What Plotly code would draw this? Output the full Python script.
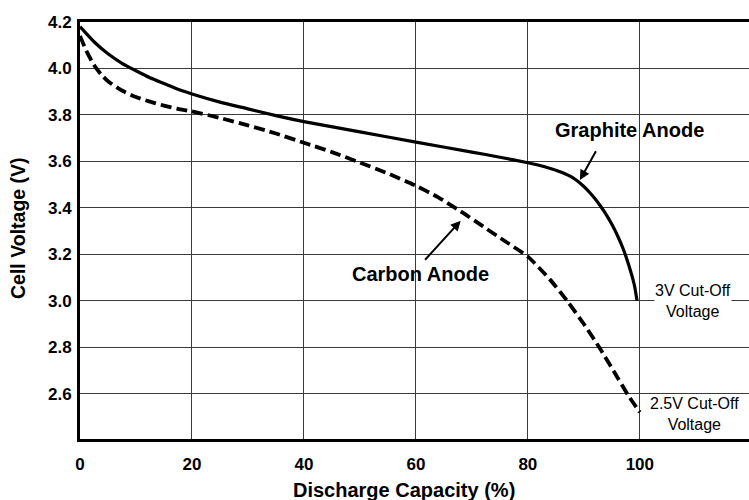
import plotly.graph_objects as go

# ---- data ----
graphite_x = [0, 2.5, 5, 7.5, 10, 12.5, 15, 17.5, 20, 25, 30, 35, 40, 50, 60, 70, 75, 80, 83, 86, 88, 90, 91, 92, 93, 94, 95, 96, 97, 98, 99, 99.5]
graphite_y = [4.18, 4.115, 4.063, 4.022, 3.99, 3.96, 3.935, 3.91, 3.89, 3.855, 3.826, 3.797, 3.771, 3.727, 3.683, 3.64, 3.618, 3.594, 3.577, 3.553, 3.53, 3.492, 3.467, 3.439, 3.407, 3.371, 3.329, 3.281, 3.225, 3.155, 3.07, 3.0]

carbon_x = [0, 1.25, 2.5, 3.75, 5, 7.5, 10, 12.5, 15, 17.5, 20, 25, 30, 35, 40, 45, 50, 55, 60, 64, 68, 72, 76, 80, 84, 87, 90, 93, 96, 98, 100]
carbon_y = [4.14, 4.07, 4.015, 3.975, 3.945, 3.905, 3.877, 3.857, 3.84, 3.826, 3.815, 3.787, 3.755, 3.72, 3.68, 3.64, 3.595, 3.548, 3.495, 3.445, 3.385, 3.32, 3.255, 3.19, 3.09, 3.0, 2.9, 2.79, 2.67, 2.59, 2.52]

x_ticks = [0, 20, 40, 60, 80, 100]
y_ticks = [2.6, 2.8, 3.0, 3.2, 3.4, 3.6, 3.8, 4.0, 4.2]
y_tick_text = ["2.6", "2.8", "3.0", "3.2", "3.4", "3.6", "3.8", "4.0", "4.2"]

FONT = "Liberation Sans, Arial, sans-serif"

fig = go.Figure()
fig.add_trace(go.Scatter(x=graphite_x, y=graphite_y, mode="lines",
                         line=dict(color="black", width=3.2, shape="spline", smoothing=0.6),
                         name="Graphite Anode", showlegend=False))
fig.add_trace(go.Scatter(x=carbon_x, y=carbon_y, mode="lines",
                         line=dict(color="black", width=3.8, dash="11px,5px", shape="spline", smoothing=0.6),
                         name="Carbon Anode", showlegend=False))

grid_col = "#3a3a3a"
fig.update_xaxes(range=[0, 119.5], tickvals=x_ticks, ticktext=[str(v) for v in x_ticks],
                 showgrid=True, gridcolor=grid_col, gridwidth=1, zeroline=False,
                 showline=True, linecolor="black", linewidth=3, mirror=True,
                 ticks="", ticklabelstandoff=8,
                 tickfont=dict(family=FONT, size=17, color="black", weight="bold"))
fig.update_yaxes(range=[2.405, 4.2], tickvals=y_ticks, ticktext=y_tick_text,
                 showgrid=True, gridcolor=grid_col, gridwidth=1, zeroline=False,
                 showline=True, linecolor="black", linewidth=3, mirror=False,
                 ticks="", ticklabelstandoff=2,
                 tickfont=dict(family=FONT, size=17, color="black", weight="bold"))

anns = []
# axis titles
anns.append(dict(text="Discharge Capacity (%)", xref="paper", yref="paper", x=(404 - 80) / 669, y=-(490 - 439) / 417,
                 showarrow=False, xanchor="center", yanchor="middle",
                 font=dict(family=FONT, size=20, color="black", weight="bold")))
anns.append(dict(text="Cell Voltage (V)", xref="paper", yref="paper", x=-(80 - 18) / 669, y=(439 - 228) / 417,
                 showarrow=False, xanchor="center", yanchor="middle", textangle=-90,
                 font=dict(family=FONT, size=19.5, color="black", weight="bold")))
# curve labels
anns.append(dict(text="Graphite Anode", x=98.2, y=3.735, xref="x", yref="y", showarrow=False,
                 font=dict(family=FONT, size=20, color="black", weight="bold")))
anns.append(dict(text="Carbon Anode", x=60.9, y=3.114, xref="x", yref="y", showarrow=False,
                 font=dict(family=FONT, size=20, color="black", weight="bold")))
# arrows
anns.append(dict(text="", x=89.3, y=3.52, ax=92.3, ay=3.65, xref="x", yref="y", axref="x", ayref="y",
                 showarrow=True, arrowhead=2, arrowsize=1, arrowwidth=2, arrowcolor="black"))
anns.append(dict(text="", x=68.0, y=3.345, ax=61.4, ay=3.17, xref="x", yref="y", axref="x", ayref="y",
                 showarrow=True, arrowhead=2, arrowsize=1, arrowwidth=2, arrowcolor="black"))
# cut-off labels
anns.append(dict(text="3V Cut-Off<br>Voltage", x=109.5, y=3.0, xref="x", yref="y", showarrow=False,
                 bgcolor="white", borderpad=0,
                 font=dict(family=FONT, size=16, color="black")))
anns.append(dict(text="2.5V Cut-Off<br>Voltage", x=109.8, y=2.514, xref="x", yref="y", showarrow=False,
                 bgcolor="white", borderpad=0,
                 font=dict(family=FONT, size=16, color="black")))

fig.update_layout(width=749, height=500, margin=dict(l=80, r=0, t=22, b=61),
                  plot_bgcolor="white", paper_bgcolor="white", annotations=anns,
                  font=dict(family=FONT, color="black"))

fig.write_html("out.html", config={"displayModeBar": False},
               post_script="document.body.style.margin='0';document.body.style.padding='0';")
